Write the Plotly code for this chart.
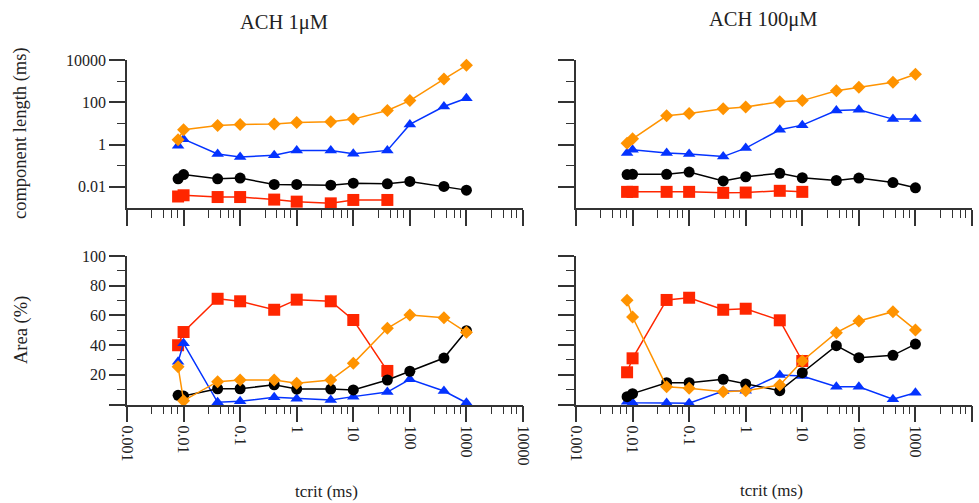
import plotly.graph_objects as go

# ---------------- data ----------------
x_vals = [0.008, 0.01, 0.04, 0.1, 0.4, 1, 4, 10, 40, 100, 400, 1000]

# ACH 1 uM - component length (ms)
black_len_1 = [0.024, 0.038, 0.024, 0.026, 0.013, 0.013, 0.012, 0.015, 0.014, 0.018, 0.0105, 0.007]
orange_len_1 = [1.7, 5, 8, 9, 9.5, 11, 12, 16, 41, 120, 1260, 5600]
blue_len_1 = [0.87, 1.8, 0.36, 0.26, 0.31, 0.53, 0.53, 0.37, 0.53, 9, 63, 155]
red_len_1 = [0.0035, 0.004, 0.0033, 0.0033, 0.0025, 0.002, 0.00166, 0.0024, 0.0024]

# ACH 100 uM - component length (ms)
black_len_100 = [0.038, 0.039, 0.039, 0.05, 0.019, 0.030, 0.044, 0.027, 0.020, 0.026, 0.016, 0.009]
orange_len_100 = [1.17, 1.86, 23, 29.5, 49, 60, 107, 120, 350, 515, 890, 2130]
blue_len_100 = [0.40, 0.57, 0.40, 0.36, 0.27, 0.68, 5, 8.3, 41, 44, 16, 16]
red_len_100 = [0.0058, 0.0058, 0.0058, 0.0058, 0.0052, 0.0054, 0.0065, 0.0058]

# ACH 1 uM - Area (%)
red_area_1 = [39.9, 48.8, 71.2, 69.5, 63.8, 70.6, 69.5, 56.9, 22.6]
black_area_1 = [6.2, 5.7, 10.6, 10.6, 13.3, 10.4, 10.4, 9.8, 16.5, 22.4, 31.3, 49.7]
orange_area_1 = [25.5, 2.6, 15.4, 16.5, 16.5, 14.3, 16.5, 27.7, 51.3, 60.3, 58.5, 48.6]
blue_area_1 = [28.8, 41.2, 1.5, 2.2, 4.8, 3.9, 3.0, 5.3, 8.4, 17.0, 9.1, 1.2]

# ACH 100 uM - Area (%)
red_area_100 = [21.7, 31.1, 70.4, 71.9, 63.8, 64.5, 56.7, 29.3]
black_area_100 = [5.3, 7.3, 14.7, 14.7, 17, 13.8, 9.3, 21.4, 39.6, 31.5, 33.1, 40.7]
orange_area_100 = [70.2, 58.9, 12, 10.9, 8.6, 9.3, 13.1, 29.3, 48.4, 56.2, 62.5, 50.2]
blue_area_100 = [1.9, 1.2, 1.0, 0.8, 9.1, 9.3, 19.9, 19.2, 12, 12, 3.5, 7.9]

x_ticks = [0.001, 0.01, 0.1, 1, 10, 100, 1000, 10000]
x_ticktext = ["0.001", "0.01", "0.1", "1", "10", "100", "1000", "10000"]
len_ticks = [0.01, 1, 100, 10000]
len_ticktext = ["0.01", "1", "100", "10000"]
len_minor = [0.1, 10, 1000]
area_ticks = [0, 20, 40, 60, 80, 100]
area_ticktext = ["", "20", "40", "60", "80", "100"]
area_minor = [10, 30, 50, 70, 90]

titles = ["ACH 1\u03bcM", "ACH 100\u03bcM"]

# ---------------- styles ----------------
RED = "#FF2600"
BLUE = "#0433FF"
ORANGE = "#FF9300"
BLACK = "#000000"
FONT = "Liberation Serif"
AX = "#333333"

x_minor = [d * m for d in [0.001, 0.01, 0.1, 1, 10, 100, 1000] for m in (2.75, 4.47, 6.17, 7.76)]

fig = go.Figure()


def add_series(xa, ya, x, y, color, symbol, size):
    fig.add_trace(go.Scatter(
        x=x, y=y, mode="lines+markers", xaxis=xa, yaxis=ya,
        line=dict(color=color, width=1.5),
        marker=dict(color=color, symbol=symbol, size=size, line=dict(width=0)),
        cliponaxis=False, showlegend=False))


panels = [
    ("x", "y", red_len_1, blue_len_1, black_len_1, orange_len_1),
    ("x2", "y2", red_len_100, blue_len_100, black_len_100, orange_len_100),
    ("x3", "y3", red_area_1, blue_area_1, black_area_1, orange_area_1),
    ("x4", "y4", red_area_100, blue_area_100, black_area_100, orange_area_100),
]
for xa, ya, r, b, k, o in panels:
    add_series(xa, ya, x_vals[:len(r)], r, RED, "square", 12)
    add_series(xa, ya, x_vals[:len(b)], b, BLUE, "triangle-up", 11)
    add_series(xa, ya, x_vals[:len(k)], k, BLACK, "circle", 11)
    add_series(xa, ya, x_vals[:len(o)], o, ORANGE, "diamond", 10)

W, H = 979, 503
xl = [127 / W, 523 / W]
xr = [576 / W, 972 / W]
yt = [1 - 208 / H, 1 - 60 / H]
yb = [1 - 404.5 / H, 1 - 256 / H]


def xaxis(domain, anchor, labels):
    return dict(
        type="log", range=[-3, 4], domain=domain, anchor=anchor, automargin=False,
        showline=True, linecolor=AX, linewidth=1.5, showgrid=False, zeroline=False,
        ticks="outside", ticklen=16, tickwidth=1.5, tickcolor=AX,
        tickmode="array", tickvals=x_ticks, ticktext=x_ticktext,
        showticklabels=labels, tickangle=90,
        tickfont=dict(family=FONT, size=16, color="#222"),
        minor=dict(tickmode="array", tickvals=x_minor, ticks="outside", ticklen=8,
                   tickwidth=1.3, tickcolor=AX, showgrid=False),
    )


def ylen(domain, anchor, labels):
    return dict(
        type="log", range=[-3, 4], domain=domain, anchor=anchor, automargin=False,
        showline=True, linecolor=AX, linewidth=1.5, showgrid=False, zeroline=False,
        ticks="outside", ticklen=16, tickwidth=1.5, tickcolor=AX,
        tickmode="array", tickvals=len_ticks, ticktext=len_ticktext,
        showticklabels=labels, tickfont=dict(family=FONT, size=16, color="#222"),
        minor=dict(tickmode="array", tickvals=len_minor, ticks="outside", ticklen=8,
                   tickwidth=1.3, tickcolor=AX, showgrid=False),
    )


def yarea(domain, anchor, labels):
    return dict(
        range=[0, 100], domain=domain, anchor=anchor, automargin=False,
        showline=True, linecolor=AX, linewidth=1.5, showgrid=False, zeroline=False,
        ticks="outside", ticklen=16, tickwidth=1.5, tickcolor=AX,
        tickmode="array", tickvals=area_ticks, ticktext=area_ticktext,
        showticklabels=labels, tickfont=dict(family=FONT, size=16, color="#222"),
        minor=dict(tickmode="array", tickvals=area_minor, ticks="outside", ticklen=8,
                   tickwidth=1.3, tickcolor=AX, showgrid=False),
    )


fig.update_layout(
    width=W, height=H, margin=dict(l=0, r=0, t=0, b=0, autoexpand=False),
    paper_bgcolor="white", plot_bgcolor="white",
    font=dict(family=FONT, color="#222"),
    xaxis=xaxis(xl, "y", False), yaxis=ylen(yt, "x", True),
    xaxis2=xaxis(xr, "y2", False), yaxis2=ylen(yt, "x2", False),
    xaxis3=xaxis(xl, "y3", True), yaxis3=yarea(yb, "x3", True),
    xaxis4=xaxis(xr, "y4", True), yaxis4=yarea(yb, "x4", False),
)

ann = [
    dict(text=titles[0], x=284 / W, y=1 - 22 / H, size=20.5, angle=0),
    dict(text=titles[1], x=763 / W, y=1 - 20 / H, size=20.5, angle=0),
    dict(text="component length (ms)", x=21 / W, y=1 - 133 / H, size=18.5, angle=-90),
    dict(text="Area (%)", x=21 / W, y=1 - 330 / H, size=18.5, angle=-90),
    dict(text="tcrit (ms)", x=326 / W, y=1 - 491 / H, size=17, angle=0),
    dict(text="tcrit (ms)", x=771 / W, y=1 - 490 / H, size=17, angle=0),
]
for a in ann:
    fig.add_annotation(text=a["text"], x=a["x"], y=a["y"], xref="paper", yref="paper",
                       xanchor="center", yanchor="middle", showarrow=False,
                       textangle=a["angle"], font=dict(family=FONT, size=a["size"], color="#222"))

fig.write_html("out.html")
